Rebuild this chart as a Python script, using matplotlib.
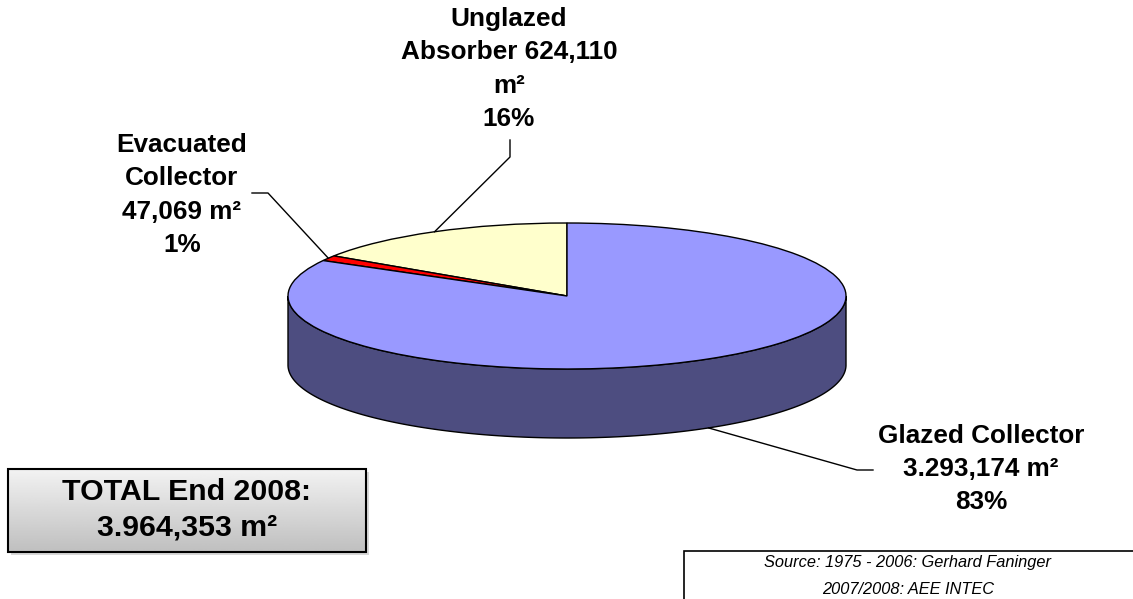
import numpy as np
import matplotlib.pyplot as plt
from matplotlib.patches import Polygon, Rectangle

# data
labels = ["Unglazed\nAbsorber 624,110\nm²\n16%",
          "Evacuated\nCollector\n47,069 m²\n1%",
          "Glazed Collector\n3.293,174 m²\n83%"]
areas = [624110, 47069, 3293174]
colors = ["#FFFFCC", "#FF0000", "#9999FF"]
side_color = "#4D4D80"
total_text = "TOTAL End 2008:\n3.964,353 m²"
source_text = "Source: 1975 - 2006: Gerhard Faninger\n2007/2008: AEE INTEC"

W, H = 1133, 599
cx, cy = 567, 296      # pie centre, pixels from top-left
rx, ry = 279, 73       # ellipse radii in pixels
depth = 69 / ry        # thickness of the pie, in unit-circle units

plt.rcParams['font.family'] = ['Liberation Sans', 'DejaVu Sans']


def d(px, py):
    # pixel position (from top-left) -> data coords of the tilted unit circle
    return (px - cx) / rx, (cy - py) / ry


fig = plt.figure(figsize=(W / 100, H / 100), dpi=100)
ax = fig.add_axes([0, 0, 1, 1])

# side of the pie (front half only is visible)
t = np.linspace(np.pi, 2 * np.pi, 300)
xs = np.concatenate([np.cos(t), np.cos(t[::-1])])
ys = np.concatenate([np.sin(t), np.sin(t[::-1]) - depth])
ax.add_patch(Polygon(np.column_stack([xs, ys]), closed=True, fc=side_color,
                     ec='black', lw=1, zorder=1))

wedges, _ = ax.pie(areas, colors=colors, startangle=90, counterclock=True,
                   wedgeprops=dict(edgecolor='black', linewidth=1))
for w in wedges:
    w.set_zorder(2)

# leader lines: label side points in pixels, pie end at slice middle
stubs = [[(510, 140), (510, 157)],
         [(252, 193), (268, 193)],
         [(873, 470), (857, 470)]]
for i, w in enumerate(wedges):
    mid = np.deg2rad((w.theta1 + w.theta2) / 2)
    px_, py_ = np.cos(mid), np.sin(mid)
    if py_ < 0:
        py_ -= depth
    pts = [d(*p) for p in stubs[i]] + [(px_, py_)]
    ax.plot([p[0] for p in pts], [p[1] for p in pts], color='black', lw=1, zorder=3)

label_pos = [(509, 69), (182, 195), (981, 469)]
for lab, (x, y) in zip(labels, label_pos):
    ax.text(*d(x, y), lab, ha='center', va='center', fontsize=18.8,
            fontweight='bold', linespacing=1.49, zorder=4)

# total box with grey gradient and a faint shadow
bx0, by0, bx1, by1 = 8, 469, 366, 552
ax.add_patch(Rectangle(d(bx0 + 3, by1 + 3), (bx1 - bx0) / rx, (by1 - by0) / ry,
                       fc='#D8D8D8', ec='none', zorder=4))
grad = np.linspace(0.95, 0.75, 100).reshape(-1, 1)
x0, y0 = d(bx0, by0)
x1, y1 = d(bx1, by1)
ax.imshow(grad, cmap='gray', vmin=0, vmax=1, extent=(x0, x1, y1, y0),
          origin='upper', aspect='auto', zorder=5)
ax.add_patch(Rectangle((x0, y1), x1 - x0, y0 - y1, fc='none', ec='black',
                       lw=1.5, zorder=6))
ax.text(*d((bx0 + bx1) / 2, 510), total_text, ha='center', va='center',
        fontsize=21.8, fontweight='bold', linespacing=1.33, zorder=7)

# source box
sx0, sy0 = d(684, 551)
sx1, sy1 = d(1140, 610)
ax.add_patch(Rectangle((sx0, sy1), sx1 - sx0, sy0 - sy1, fc='none', ec='black',
                       lw=1.2, zorder=3))
ax.text(*d(908, 576), source_text, ha='center', va='center', fontsize=11.8,
        fontstyle='italic', linespacing=2.0, zorder=4)

ax.set_aspect('auto')
ax.set_xlim(d(0, 0)[0], d(W, 0)[0])
ax.set_ylim(d(0, H)[1], d(0, 0)[1])
ax.axis('off')

fig.savefig('out.png', dpi=100)
